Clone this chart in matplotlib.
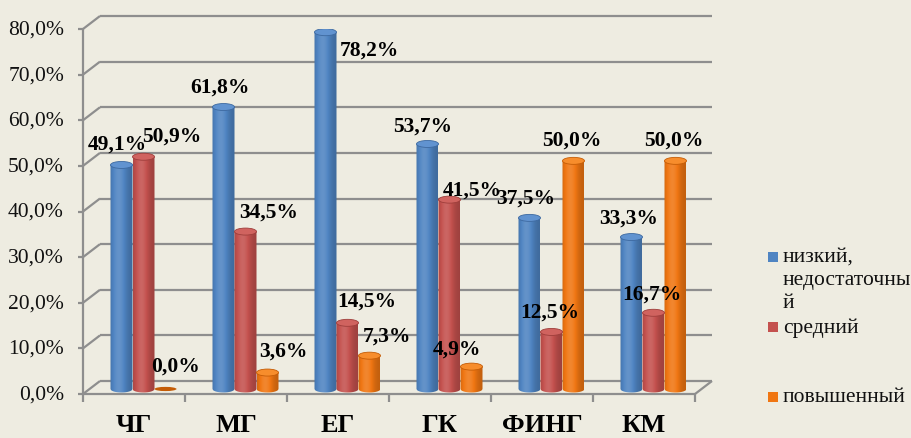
# Grouped "cylinder" bar chart of level shares per group (3D-look, Excel style).

import numpy
import matplotlib
matplotlib.use('Agg')
from matplotlib import pyplot
from matplotlib.patches import Ellipse, PathPatch, Rectangle
from matplotlib.path import Path
from matplotlib.colors import to_rgb


categories = ['ЧГ', 'МГ', 'ЕГ', 'ГК', 'ФИНГ', 'КМ']
low = [49.1, 61.8, 78.2, 53.7, 37.5, 33.3]
medium = [50.9, 34.5, 14.5, 41.5, 12.5, 16.7]
high = [0.0, 3.6, 7.3, 4.9, 50.0, 50.0]
series_names = ['низкий,\nнедостаточны\nй', 'средний', 'повышенный']
y_ticks = [0, 10, 20, 30, 40, 50, 60, 70, 80]

# label offsets (pixels) from the top of each cylinder, as placed in the original
label_offsets = [
  [(-4, 21), (-4, 20), (44, -17), (-5, 18), (-4, 20), (-3, 19)],
  [(28, 21), (23, 20), (19, 22), (23, 10), (-2, 20), (-2, 19)],
  [(10, 23), (16, 22), (17, 20), (-15, 18), (-2, 21), (-2, 21)],
]

colors = ['#4F84C2', '#C4514E', '#F07612']
cap_colors = ['#6193D0', '#D0635F', '#F78D2C']
edge_colors = ['#3D69A0', '#9E3E3B', '#C45C06']
background = '#EEECE1'
grid_color = '#8E8E8E'
serif = ['Liberation Serif', 'DejaVu Serif']

W, H = 912, 439
PX_X = 102.0          # pixels per category
PX_Y = 365.0 / 80.0   # pixels per percent
BACK_DX, BACK_DY = 17.0 / PX_X, 13.0 / PX_Y
MID_DX, MID_DY = 9.5 / PX_X, 1.1
BAR_W = 22.0 / PX_X
CAP_H = 7.0 / PX_Y


def fmt(v):
  return '{:.1f}%'.format(v).replace('.', ',')


def shade(base, t):
  """Horizontal shading across a cylinder, t in [0, 1]."""
  rgb = numpy.array(to_rgb(base))
  s = 0.80 + 0.32 * numpy.exp(-((t - 0.38) / 0.34)**2)
  out = numpy.empty((t.size, 3))
  for k, sk in enumerate(s):
    if sk > 1.0:
      out[k] = rgb + (1.0 - rgb) * (sk - 1.0)
    else:
      out[k] = rgb * sk
  return numpy.clip(out, 0, 1)


def draw_cylinder(ax, xc, value, j):
  x0, x1 = xc - BAR_W / 2, xc + BAR_W / 2
  bottom = MID_DY
  top = value + MID_DY
  if value <= 0.05:
    ax.add_patch(Ellipse((xc, bottom), BAR_W, CAP_H * 0.6, facecolor=edge_colors[j],
                         edgecolor='none', zorder=5))
    return
  n = 60
  t = numpy.linspace(0, 1, n)
  grad = shade(colors[j], t)[numpy.newaxis, :, :]
  arc_x = numpy.linspace(x0, x1, 40)
  arc_y = bottom - (CAP_H / 2) * numpy.sqrt(numpy.clip(1 - ((arc_x - xc) / (BAR_W / 2))**2, 0, 1))
  verts = [(x0, top)] + list(zip(arc_x, arc_y)) + [(x1, top), (x0, top)]
  codes = [Path.MOVETO] + [Path.LINETO] * (len(verts) - 2) + [Path.CLOSEPOLY]
  body = PathPatch(Path(verts, codes), facecolor='none', edgecolor='none',
                   transform=ax.transData)
  ax.add_patch(body)
  im = ax.imshow(grad, extent=[x0, x1, bottom - CAP_H, top], aspect='auto',
                 origin='lower', zorder=4, interpolation='bilinear')
  im.set_clip_path(body)
  ax.add_patch(Ellipse((xc, top), BAR_W, CAP_H, facecolor=cap_colors[j],
                       edgecolor=edge_colors[j], linewidth=0.6, zorder=5))


def main():
  pyplot.rcParams['font.family'] = serif
  fig = pyplot.figure(figsize=(W / 100.0, H / 100.0), dpi=100, facecolor=background)
  ax = fig.add_axes([83.0 / W, (H - 395.0) / H, 6 * PX_X / W, 365.0 / H])
  ax.set_facecolor('none')
  ax.set_axis_off()

  line_kw = dict(color=grid_color, linewidth=1.6, solid_capstyle='butt',
                 clip_on=False, zorder=1)
  # back wall gridlines and left side diagonals
  for v in y_ticks:
    ax.plot([BACK_DX, 6 + BACK_DX], [v + BACK_DY, v + BACK_DY], **line_kw)
    ax.plot([0, BACK_DX], [v, v + BACK_DY], **line_kw)
    ax.plot([-5.0 / PX_X, 0], [v, v], **line_kw)
    ax.text(-19.0 / PX_X, v, fmt(v), ha='right', va='center', fontsize=15.5,
            color='#111111')
  # floor and front axis
  ax.plot([0, 6], [0, 0], **line_kw)
  ax.plot([6, 6 + BACK_DX], [0, BACK_DY], **line_kw)
  ax.plot([0, 0], [0, 80], **line_kw)
  for i in range(7):
    ax.plot([i, i], [0, -8.0 / PX_Y], **line_kw)

  data = [low, medium, high]
  for i, cat in enumerate(categories):
    for j, series in enumerate(data):
      xc = i + 0.5 + MID_DX + (j - 1) * BAR_W
      draw_cylinder(ax, xc, series[i], j)
      ox, oy = label_offsets[j][i]
      ax.annotate(fmt(series[i]), (xc, series[i] + MID_DY), xytext=(ox, oy),
                  textcoords='offset pixels', ha='center', va='center',
                  fontsize=15.5, fontweight='bold', color='black', zorder=10,
                  annotation_clip=False)
    ax.text(i + 0.5, -31.0 / PX_Y, cat, ha='center', va='center', fontsize=19,
            fontweight='bold', color='black')

  ax.set_xlim(0, 6)
  ax.set_ylim(0, 80)

  # legend
  legend_rows = [(258, 0), (328, 1), (398, 2)]
  for (y, j) in legend_rows:
    fig.add_artist(Rectangle(((768.0) / W, (H - y - 5.0) / H), 10.0 / W, 10.0 / H,
                             facecolor=colors[j], edgecolor='none',
                             transform=fig.transFigure))
  fig.text(783.0 / W, (H - 248.0) / H, series_names[0], ha='left', va='top',
           fontsize=15.5, color='#111111', linespacing=1.3)
  fig.text(783.0 / W, (H - 328.0) / H, series_names[1], ha='left',
           va='center', fontsize=15.5, color='#111111')
  fig.text(783.0 / W, (H - 398.0) / H, series_names[2], ha='left',
           va='center', fontsize=15.5, color='#111111')

  fig.savefig('out.png', dpi=100, facecolor=background)


if __name__ == '__main__':
  main()
